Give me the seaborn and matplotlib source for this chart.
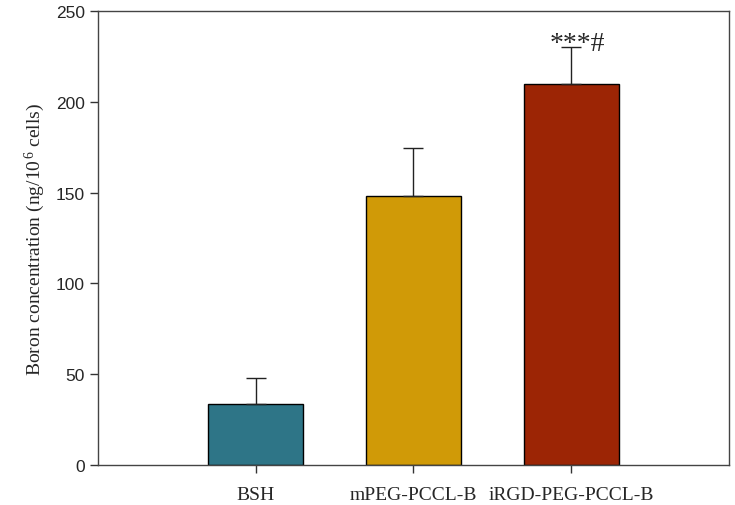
import numpy as np
import pandas as pd
import seaborn as sns
import matplotlib.pyplot as plt

sns.set_style("white")
plt.rcParams['font.family'] = ['Liberation Serif', 'DejaVu Serif']
plt.rcParams['mathtext.fontset'] = 'custom'
plt.rcParams['mathtext.rm'] = 'Liberation Serif'
plt.rcParams['mathtext.it'] = 'Liberation Serif:italic'

groups = ['BSH', 'mPEG-PCCL-B', 'iRGD-PEG-PCCL-B']
boron = [33.6, 148.3, 209.8]
sd = [14.3, 26.4, 20.4]
bar_colors = ['#2E7587', '#D09A07', '#9C2505']

df = pd.DataFrame({'Group': groups, 'Boron': boron, 'SD': sd})

fig = plt.figure(figsize=(7.35, 5.06), dpi=100)
ax = fig.add_axes([0.1333, 0.079, 0.8585, 0.897])

sns.barplot(data=df, x='Group', y='Boron', hue='Group', palette=bar_colors,
            errorbar=None, width=0.6, edgecolor='black', linewidth=1,
            saturation=1, legend=False, ax=ax)

# upper error bars only
ax.errorbar(np.arange(len(groups)), df['Boron'], yerr=[np.zeros(len(sd)), df['SD']],
            fmt='none', ecolor='#222222', elinewidth=1, capsize=7, capthick=1)

ax.text(2.04, 228.5, '***#', ha='center', va='baseline', fontsize=20)

ax.set_xlim(-1, 3)
ax.set_ylim(0, 250)
ax.set_yticks([0, 50, 100, 150, 200, 250])
ax.set_xlabel('')
ax.set_ylabel(r'Boron concentration (ng/10$^{\,6}$ cells)', fontsize=14, labelpad=6)

for lab in ax.get_yticklabels():
    lab.set_fontfamily('Liberation Sans')
    lab.set_fontsize(12.5)
for lab in ax.get_xticklabels():
    lab.set_fontsize(14)

ax.tick_params(axis='both', direction='out', length=6, width=1, color='#333333',
               left=True, bottom=True)
ax.tick_params(axis='x', pad=9)
for sp in ax.spines.values():
    sp.set_color('#444444')
    sp.set_linewidth(1)

fig.savefig('out.png')
